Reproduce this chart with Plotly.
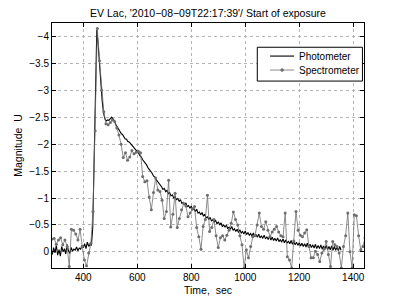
import numpy as np
import plotly.graph_objects as go

# Photometer: 5 s sampling, 285 .. 1355 s
phot_t0, phot_dt = 285, 5
phot_mag = [
    0.05, -0.08, 0.02, -0.12, 0.06, -0.04, 0.08, -0.10, 0.00, -0.06,
    0.04, -0.14, -0.02, 0.03, -0.08, -0.01, -0.05, -0.03, -0.09, -0.02,
    -0.07, -0.05, -0.11, -0.08, -0.15, -0.06, -0.18, -0.10, -0.14, -0.12,
    -0.45, -1.60, -2.80, -4.12, -3.85, -3.45, -3.10, -2.80, -2.58, -2.47,
    -2.43, -2.45, -2.44, -2.48, -2.50, -2.47, -2.44, -2.37, -2.33, -2.27,
    -2.24, -2.20, -2.18, -2.13,
    -2.10, -2.09, -2.05, -2.04, -2.01, -1.98, -1.96, -1.92, -1.90, -1.86,
    -1.83, -1.78, -1.76, -1.71, -1.68, -1.63, -1.61, -1.56, -1.53, -1.49,
    -1.46, -1.41, -1.39, -1.34, -1.31, -1.26, -1.24, -1.21, -1.16, -1.18,
    -1.12, -1.14, -1.08, -1.10, -1.04, -1.06, -1.00, -1.03, -0.97, -0.99,
    -0.94, -0.97, -0.90, -0.92, -0.87, -0.91, -0.84, -0.86, -0.81, -0.85,
    -0.78, -0.80, -0.75, -0.79, -0.72, -0.74, -0.69, -0.73, -0.66, -0.70,
    -0.63, -0.65, -0.60, -0.64, -0.57, -0.60, -0.55, -0.59, -0.52, -0.56,
    -0.50, -0.54, -0.47, -0.50, -0.46, -0.50, -0.43, -0.46, -0.42, -0.47,
    -0.40, -0.43, -0.38, -0.42, -0.36, -0.41, -0.35, -0.38, -0.33, -0.39,
    -0.32, -0.36, -0.31, -0.34, -0.29, -0.35, -0.28, -0.32, -0.27, -0.33,
    -0.26, -0.30, -0.25, -0.31, -0.24, -0.28, -0.23, -0.29, -0.22, -0.27,
    -0.21, -0.25, -0.20, -0.26, -0.19, -0.23, -0.18, -0.24, -0.17, -0.22,
    -0.16, -0.20, -0.15, -0.21, -0.14, -0.19, -0.13, -0.18, -0.12, -0.17,
    -0.11, -0.16, -0.10, -0.15, -0.09, -0.16, -0.08, -0.14, -0.08, -0.13,
    -0.07, -0.14, -0.06, -0.12, -0.06, -0.13, -0.05, -0.11, -0.05, -0.12,
    -0.04, -0.10, -0.04, -0.11, -0.03, -0.10, -0.03, -0.09, -0.02, -0.10,
    -0.03,
]
phot_time = [phot_t0 + phot_dt * i for i in range(len(phot_mag))]

# Spectrometer: 8 s sampling, 284 .. 1444 s
spec_t0, spec_dt = 284, 8
spec_mag = [
    -0.24, -0.25, -0.14, -0.22, -0.26, -0.13, -0.22, -0.10, 0.27, -0.42,
    -0.40, -0.33, -0.22, -0.42, -0.10, 0.15, 0.26, 0.02, -0.16, -0.75,
    -2.25, -4.15, -3.55, -3.00, -2.60, -2.38, -2.36, -2.40, -2.45, -2.42,
    -2.30, -2.17, -2.00, -1.75, -1.84, -1.70, -1.76, -1.88, -1.82, -1.85,
    -1.87, -1.84, -1.40, -1.30, -1.32, -1.02, -0.78, -1.10, -1.37, -1.15,
    -1.12, -0.96, -0.62, -0.75, -1.33, -0.46, -0.70, -1.09, -0.45, -0.62,
    -0.78, -0.90, -0.85, -0.65, -0.72, -0.80, -0.84, -0.45, -0.28, -0.05,
    -0.47, -0.60, -1.05, -0.38, -0.45, -0.60, -0.30, -0.08, -0.26, -0.30,
    -0.22, -0.31, -0.40, -0.53, -0.74, -0.60, -0.50, -0.30, -0.13, 0.30,
    -0.04, 0.11, -0.10, -0.28, -0.30, -0.50, -0.72, -0.47, -0.42, -0.56,
    -0.40, -0.28, -0.37, -0.42, -0.47, -0.37, -0.30, -0.28, -0.72, 0.09,
    0.15, 0.30, -0.20, -0.75, -0.40, -0.31, -0.28, -0.35, -0.41, -0.10,
    0.11, 0.11, -0.01, 0.05, 0.18, 0.02, -0.05, -0.19, 0.05, 0.27,
    -0.19, -0.13, -0.10, 0.02, 0.30, -0.10, -0.30, -0.72, 0.00, 0.30,
    -0.69, -0.67, -0.30, -0.04, -0.10, -0.26,
]
spec_time = [spec_t0 + spec_dt * i for i in range(len(spec_mag))]

series_names = ["Photometer", "Spectrometer"]
x_ticks = [400, 600, 800, 1000, 1200, 1400]
y_ticks = [-4, -3.5, -3, -2.5, -2, -1.5, -1, -0.5, 0]
y_ticktext = ["\u22124", "\u22123.5", "\u22123", "\u22122.5", "\u22122",
              "\u22121.5", "\u22121", "\u22120.5", "0"]

FONT = "Liberation Sans, Arial, Helvetica, sans-serif"
PHOT_COLOR = "black"
SPEC_COLOR = "#6e6e6e"

fig = go.Figure()
fig.add_trace(go.Scatter(
    x=phot_time, y=phot_mag, mode="lines", name=series_names[0],
    line=dict(color=PHOT_COLOR, width=1.1), showlegend=False,
))
fig.add_trace(go.Scatter(
    x=spec_time, y=spec_mag, mode="lines+markers", name=series_names[1],
    line=dict(color=SPEC_COLOR, width=0.8),
    marker=dict(color=SPEC_COLOR, size=3, symbol="circle"), showlegend=False,
))

# Legend box drawn in paper coordinates (MATLAB-style compact legend)
lg_x0, lg_x1, lg_y0, lg_y1 = 0.658, 0.995, 0.763, 0.901
ln_x0, ln_x1 = 0.699, 0.776
row_y = [0.865, 0.808]
shapes = [dict(type="rect", xref="paper", yref="paper",
               x0=lg_x0, x1=lg_x1, y0=lg_y0, y1=lg_y1,
               line=dict(color="black", width=1), fillcolor="white", layer="above")]
shapes.append(dict(type="line", xref="paper", yref="paper",
                   x0=ln_x0, x1=ln_x1, y0=row_y[0], y1=row_y[0],
                   line=dict(color=PHOT_COLOR, width=1.1), layer="above"))
shapes.append(dict(type="line", xref="paper", yref="paper",
                   x0=ln_x0, x1=ln_x1, y0=row_y[1], y1=row_y[1],
                   line=dict(color=SPEC_COLOR, width=0.8), layer="above"))
shapes.append(dict(type="circle", xref="paper", yref="paper",
                   xsizemode="pixel", ysizemode="pixel",
                   xanchor=(ln_x0 + ln_x1) / 2, yanchor=row_y[1],
                   x0=-1.5, x1=1.5, y0=-1.5, y1=1.5,
                   line=dict(color=SPEC_COLOR, width=0.5), fillcolor=SPEC_COLOR,
                   layer="above"))
annotations = [dict(text=name, xref="paper", yref="paper", x=0.784, y=yy,
                    xanchor="left", yanchor="middle", showarrow=False,
                    font=dict(size=10, family=FONT, color="black"))
               for name, yy in zip(series_names, row_y)]

axis_common = dict(
    showline=True, linecolor="black", linewidth=1, mirror="ticks",
    ticks="inside", ticklen=4, tickcolor="black", automargin=False,
    showgrid=True, gridcolor="#b4b4b4", griddash="dot", gridwidth=1,
    zeroline=False, tickfont=dict(size=10, color="black", family=FONT),
)

fig.update_layout(
    width=402, height=303,
    margin=dict(l=52, r=38, t=23, b=35),
    paper_bgcolor="white", plot_bgcolor="white",
    font=dict(family=FONT, color="black", size=10),
    hovermode=False,
    title=dict(text="EV Lac, '2010\u221208\u221209T22:17:39'/ Start of exposure",
               x=208 / 402, xanchor="center", y=1 - 13 / 303, yanchor="middle",
               yref="container", font=dict(size=10.5, family=FONT)),
    showlegend=False,
    shapes=shapes,
    annotations=annotations,
    xaxis=dict(range=[284, 1440], tickvals=x_ticks,
               title=dict(text="Time,  sec", standoff=4,
                          font=dict(size=10.5, family=FONT)),
               **axis_common),
    yaxis=dict(range=[0.3, -4.25], tickvals=y_ticks, ticktext=y_ticktext,
               title=dict(text="Magnitude  U", standoff=4,
                          font=dict(size=10.5, family=FONT)),
               **axis_common),
)

fig.write_html(
    "out.html",
    config={"displayModeBar": False, "staticPlot": True},
    post_script="document.body.style.margin='0';"
                "document.documentElement.style.overflow='hidden';",
)
